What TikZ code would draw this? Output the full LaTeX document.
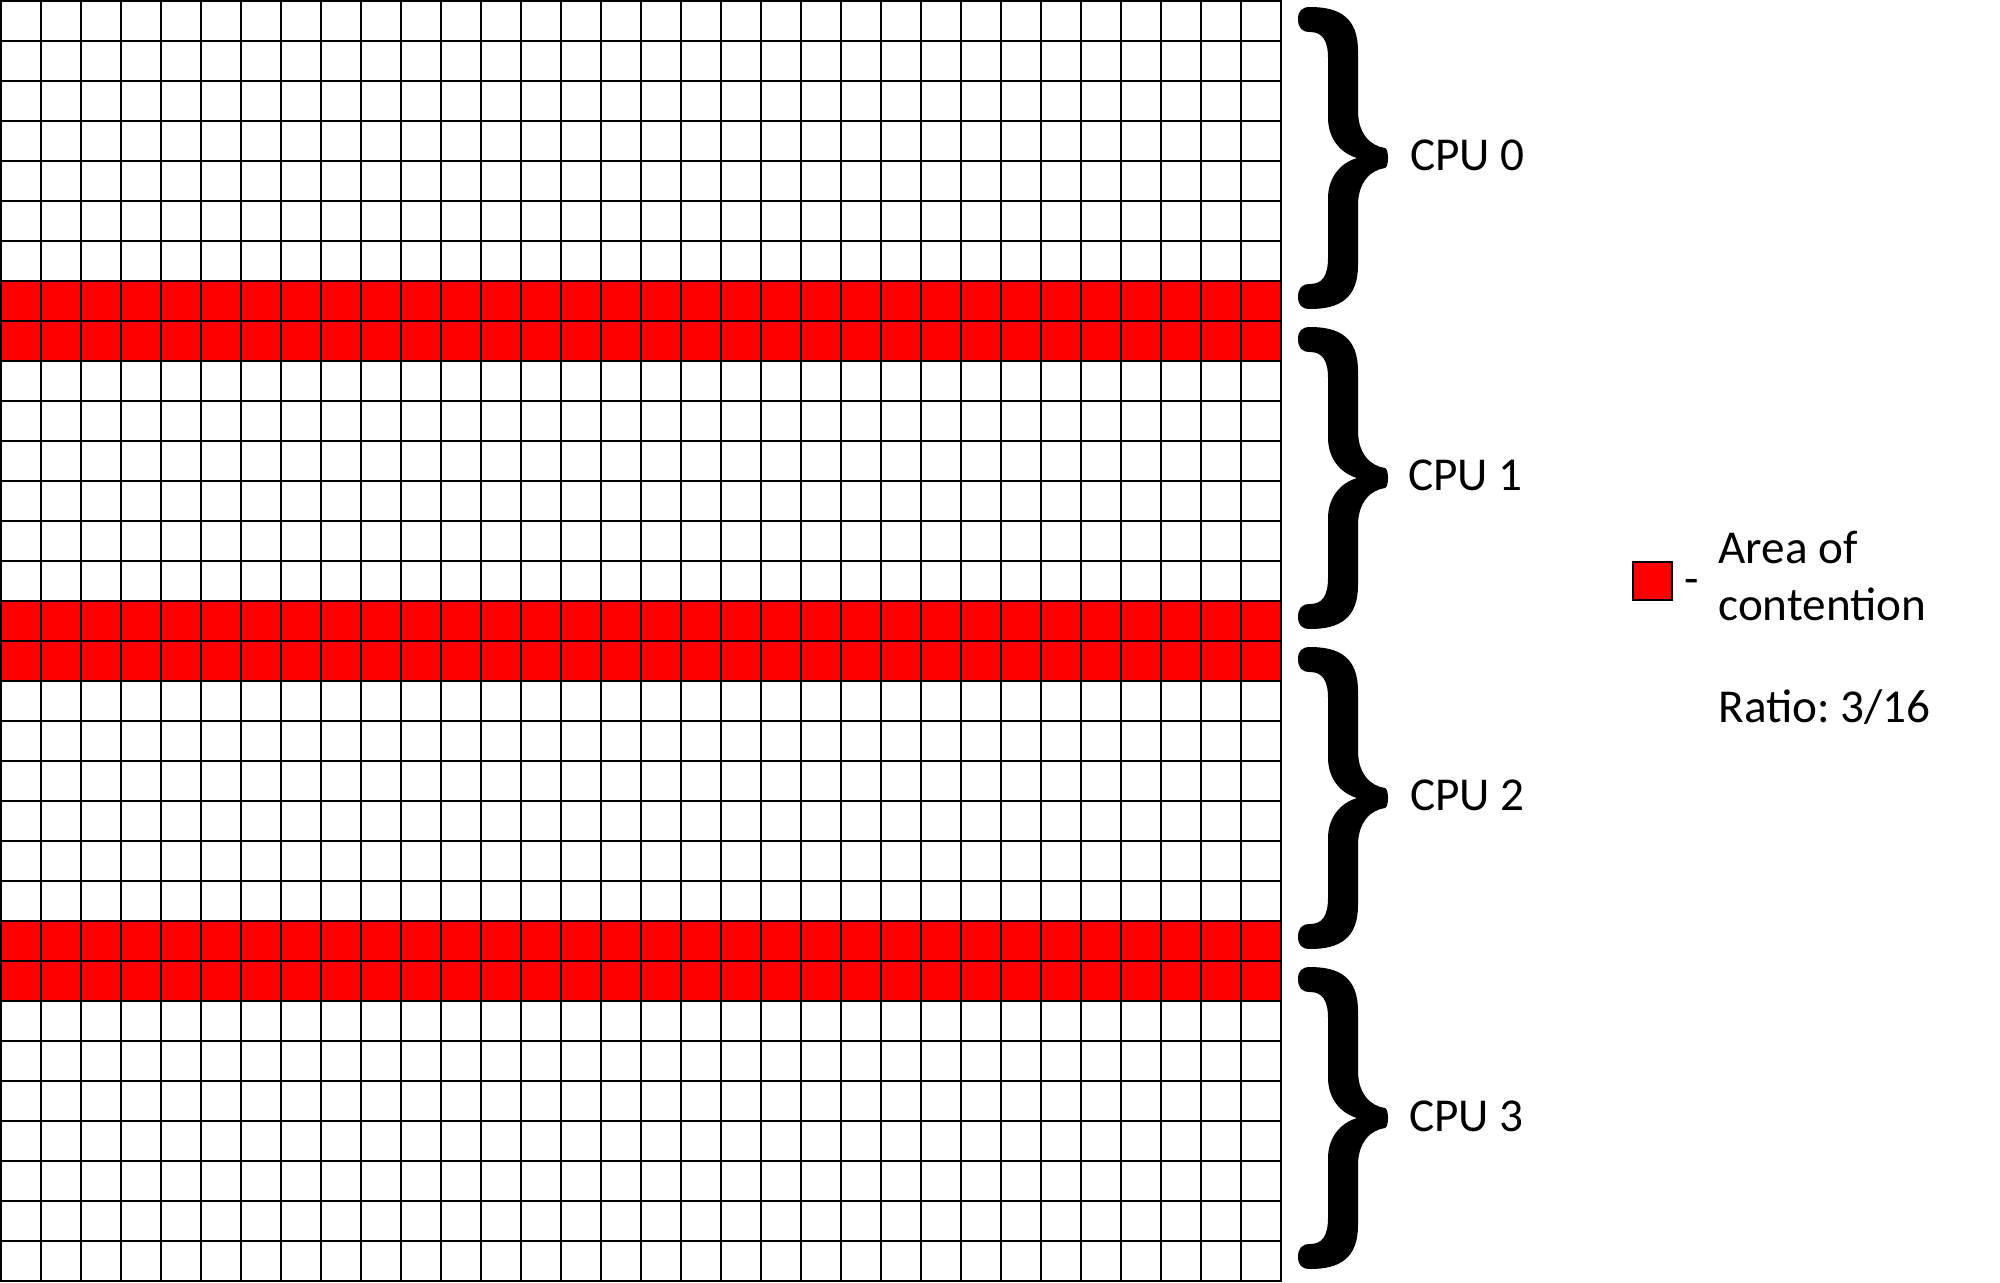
\documentclass[tikz,border=0pt]{standalone}
\usepackage{fontspec}
\setmainfont{Carlito}
\frenchspacing
\begin{document}
\begin{tikzpicture}[x=0.5pt,y=-0.5pt]
\tikzset{
  gridline/.style={black,line width=0.85pt,line cap=rect},
  bracefill/.style={fill=black},
  lbl/.style={anchor=base west,inner sep=0pt,font=\fontsize{23.6}{28}\selectfont},
  keybox/.style={draw=black,fill=red,line width=0.85pt,minimum size=19.2pt,inner sep=0pt}
}
\useasboundingbox (0,0) rectangle (2000,1282);
\fill[white] (0,0) rectangle (2000,1282);
% contention rows
\foreach \r in {7,15,23}
  \fill[red] (0.7,{0.7+40*\r}) rectangle (1280.7,{0.7+40*(\r+2)});
% grid
\foreach \i in {0,...,32} {
  \draw[gridline] ({0.7+40*\i},0.7) -- ({0.7+40*\i},1280.7);
  \draw[gridline] (0.7,{0.7+40*\i}) -- (1280.7,{0.7+40*\i});
}
% braces
\foreach \k in {0,1,2,3} {
  \begin{scope}[shift={(1260,{158+320*\k})}]
  \fill[bracefill] (38,-139) .. controls (38,-147) and (42,-151) .. (50,-151)
    .. controls (80,-151) and (98,-140) .. (98,-107) -- (98,-47)
    .. controls (98,-25) and (110,-12) .. (125,-10)
    .. controls (129,-9) and (129,9) .. (125,10)
    .. controls (110,12) and (98,25) .. (98,47) -- (98,107)
    .. controls (98,140) and (80,151) .. (50,151)
    .. controls (42,151) and (38,147) .. (38,139)
    .. controls (38,130) and (42,126) .. (50,126)
    .. controls (62,126) and (68,118) .. (68,100) -- (68,40)
    .. controls (68,20) and (80,5) .. (97,0)
    .. controls (80,-5) and (68,-20) .. (68,-40) -- (68,-100)
    .. controls (68,-118) and (62,-126) .. (50,-126)
    .. controls (42,-126) and (38,-130) .. (38,-139) -- cycle;
  \end{scope}
}
% labels
\node[lbl] (cpu0) at (1410,170) {CPU 0};
\node[lbl] (cpu1) at (1408,490) {CPU 1};
\node[lbl] (cpu2) at (1410,810) {CPU 2};
\node[lbl] (cpu3) at (1409,1131) {CPU 3};
% legend
\node[keybox] (key) at (1652.5,581) {};
\node[lbl] (dash) at (1684,594) {-};
\node[lbl] (area) at (1718,563) {Area of};
\node[lbl] (cont) at (1718,620) {contention};
\node[lbl] (ratio) at (1718,722) {Ratio: 3/16};
\end{tikzpicture}
\end{document}
